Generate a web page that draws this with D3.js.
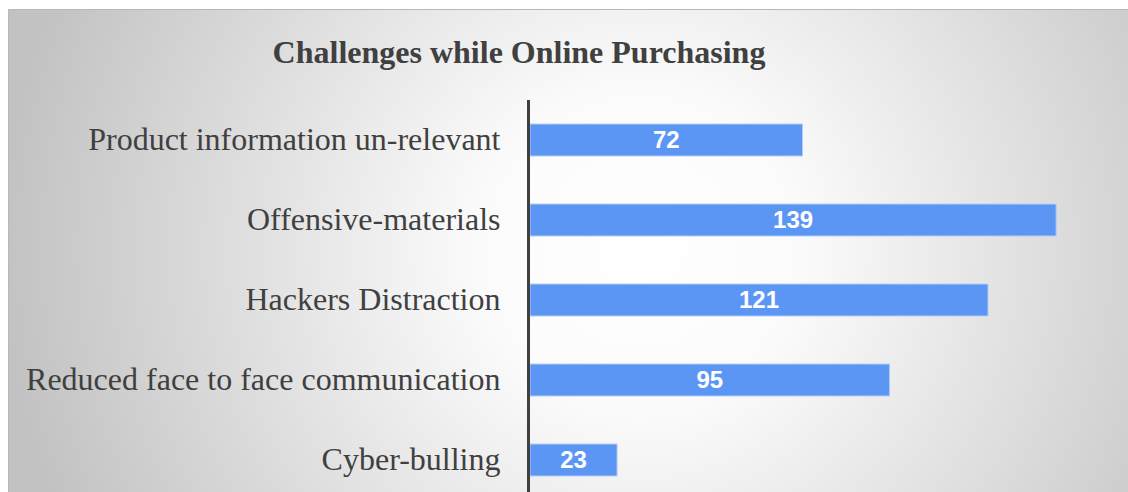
<!DOCTYPE html>
<html>
<head>
<meta charset="utf-8">
<script src="https://cdn.jsdelivr.net/npm/d3@7"></script>
<style>
  html, body { margin: 0; padding: 0; background: #fff; }
  svg { display: block; }
</style>
</head>
<body>
<script>
var width = 1128,
    height = 492;

// data
var categories = [
  'Product information un-relevant',
  'Offensive-materials',
  'Hackers Distraction',
  'Reduced face to face communication',
  'Cyber-bulling'
];
var values = [72, 139, 121, 95, 23];
var title = 'Challenges while Online Purchasing';

var svg = d3.select('body')
  .append('svg')
  .attr('width', width)
  .attr('height', height);

// radial background, white in the middle and grey at the edges
var defs = svg.append('defs');
var grad = defs.append('radialGradient')
  .attr('id', 'bg')
  .attr('gradientUnits', 'userSpaceOnUse')
  .attr('cx', 640).attr('cy', 250)
  .attr('r', 640);
grad.append('stop').attr('offset', '0%').attr('stop-color', '#ffffff');
grad.append('stop').attr('offset', '25%').attr('stop-color', '#fbfbfb');
grad.append('stop').attr('offset', '100%').attr('stop-color', '#c2c2c2');

svg.append('rect')
  .attr('x', 8.5).attr('y', 9.5)
  .attr('width', width - 8).attr('height', height)
  .attr('fill', 'url(#bg)')
  .attr('stroke', '#b8b8b8')
  .attr('stroke-width', 1);

svg.append('text')
  .attr('x', 519)
  .attr('y', 63)
  .attr('text-anchor', 'middle')
  .attr('font-family', '"Liberation Serif", "Times New Roman", serif')
  .attr('font-weight', 'bold')
  .attr('font-size', 32)
  .attr('fill', '#404040')
  .text(title);

var x = d3.scaleLinear()
  .domain([0, 160])
  .range([530, 530 + 160 * 3.785]);

var y = d3.scaleBand()
  .domain(categories)
  .range([100, 500])
  .paddingInner(0.6)
  .paddingOuter(0.3);

var bars = svg.append('g');

bars.selectAll('rect')
  .data(values)
  .enter().append('rect')
  .attr('x', x(0))
  .attr('y', function(d, i) { return y(categories[i]); })
  .attr('width', function(d) { return x(d) - x(0); })
  .attr('height', y.bandwidth())
  .attr('fill', '#5b96f5')
  .attr('stroke', '#b3cdf7')
  .attr('stroke-width', 1);

bars.selectAll('text.val')
  .data(values)
  .enter().append('text')
  .attr('class', 'val')
  .attr('x', function(d) { return (x(d) + x(0)) / 2; })
  .attr('y', function(d, i) { return y(categories[i]) + y.bandwidth() / 2; })
  .attr('dy', '0.35em')
  .attr('text-anchor', 'middle')
  .attr('font-family', '"Liberation Sans", Arial, sans-serif')
  .attr('font-weight', 'bold')
  .attr('font-size', 24)
  .attr('fill', '#ffffff')
  .text(function(d) { return d; });

// category axis, no ticks, just the vertical line and labels
var yAxis = d3.axisLeft(y).tickSize(0).tickPadding(28);
var ga = svg.append('g')
  .attr('transform', 'translate(528.5,0)')
  .call(yAxis);
ga.select('.domain')
  .attr('d', 'M0,100V492')
  .attr('stroke', '#404040')
  .attr('stroke-width', 3);
ga.selectAll('text')
  .attr('font-family', '"Liberation Serif", "Times New Roman", serif')
  .attr('font-size', 32)
  .attr('fill', '#404040')
  .attr('dy', '0.31em');
</script>
</body>
</html>
